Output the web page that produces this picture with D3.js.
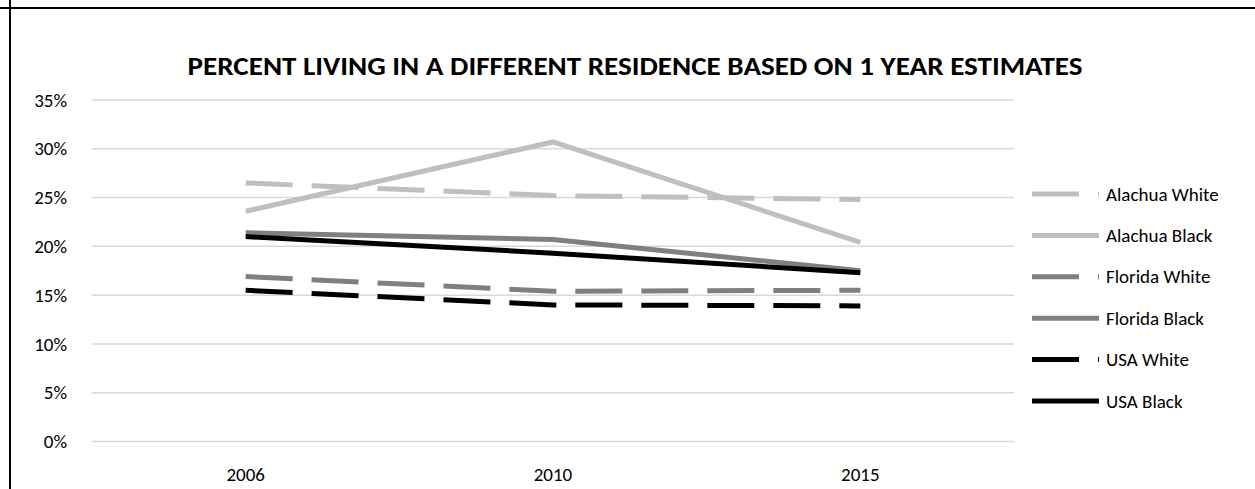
<!DOCTYPE html>
<html>
<head>
<meta charset="utf-8">
<script src="https://cdn.jsdelivr.net/npm/d3@7"></script>
<style>
  body { margin: 0; background: #fff; }
  text { font-family: Carlito, Calibri, Lato, sans-serif; }
</style>
</head>
<body>
<div id="chart"></div>
<script>
const years = ["2006", "2010", "2015"];
const yTicks = [0, 5, 10, 15, 20, 25, 30, 35];

// values in percent
const alachuaWhite = [26.5, 25.2, 24.8];
const alachuaBlack = [23.6, 30.7, 20.4];
const floridaWhite = [16.9, 15.4, 15.5];
const floridaBlack = [21.4, 20.7, 17.5];
const usaWhite = [15.5, 14.0, 13.9];
const usaBlack = [21.0, 19.3, 17.3];

const seriesNames = ["Alachua White", "Alachua Black", "Florida White", "Florida Black", "USA White", "USA Black"];
const seriesValues = [alachuaWhite, alachuaBlack, floridaWhite, floridaBlack, usaWhite, usaBlack];
const seriesColors = ["#bfbfbf", "#bfbfbf", "#7f7f7f", "#7f7f7f", "#000000", "#000000"];
const seriesDashed = [true, false, true, false, true, false];

const width = 1255, height = 489;
const margin = {left: 92, right: 241, top: 100, bottom: 47.5};

const svg = d3.select("#chart").append("svg")
  .attr("width", width)
  .attr("height", height);

// frame lines (top and left edge of the box)
svg.append("line")
  .attr("x1", 0).attr("x2", width).attr("y1", 8).attr("y2", 8)
  .attr("stroke", "#000").attr("stroke-width", 2);
svg.append("line")
  .attr("x1", 10).attr("x2", 10).attr("y1", 0).attr("y2", height)
  .attr("stroke", "#000").attr("stroke-width", 2);

const x = d3.scaleBand()
  .domain(years)
  .range([margin.left, width - margin.right]);

const y = d3.scaleLinear()
  .domain([0, 35])
  .range([height - margin.bottom, margin.top]);

// gridlines
svg.append("g")
  .selectAll("line")
  .data(yTicks)
  .join("line")
    .attr("x1", margin.left)
    .attr("x2", width - margin.right)
    .attr("y1", d => y(d))
    .attr("y2", d => y(d))
    .attr("stroke", "#d9d9d9")
    .attr("stroke-width", 1.5);

// y axis labels
svg.append("g")
  .selectAll("text")
  .data(yTicks)
  .join("text")
    .attr("x", 67)
    .attr("y", d => y(d))
    .attr("dy", "0.35em")
    .attr("text-anchor", "end")
    .attr("font-size", 19)
    .attr("fill", "#000")
    .text(d => d + "%");

// x axis labels
svg.append("g")
  .selectAll("text")
  .data(years)
  .join("text")
    .attr("x", d => x(d) + x.bandwidth() / 2)
    .attr("y", 481)
    .attr("text-anchor", "middle")
    .attr("font-size", 19)
    .attr("fill", "#000")
    .text(d => d);

// title
svg.append("text")
  .attr("x", 635)
  .attr("y", 75)
  .attr("text-anchor", "middle")
  .attr("font-size", 27)
  .attr("font-weight", "bold")
  .attr("textLength", 895)
  .attr("lengthAdjust", "spacingAndGlyphs")
  .text("PERCENT LIVING IN A DIFFERENT RESIDENCE BASED ON 1 YEAR ESTIMATES");

const line = d3.line()
  .x((d, i) => x(years[i]) + x.bandwidth() / 2)
  .y(d => y(d));

svg.append("g")
  .selectAll("path")
  .data(seriesValues)
  .join("path")
    .attr("d", d => line(d))
    .attr("fill", "none")
    .attr("stroke", (d, i) => seriesColors[i])
    .attr("stroke-width", 5)
    .attr("stroke-dasharray", (d, i) => seriesDashed[i] ? "47,19" : null);

// legend
const legend = svg.append("g")
  .selectAll("g")
  .data(seriesNames)
  .join("g")
    .attr("transform", (d, i) => `translate(1032,${194 + i * 41.4})`);

legend.append("line")
  .attr("x1", 0)
  .attr("x2", 67)
  .attr("stroke", (d, i) => seriesColors[i])
  .attr("stroke-width", 5)
  .attr("stroke-dasharray", (d, i) => seriesDashed[i] ? "47,19" : null);

legend.append("text")
  .attr("x", 74)
  .attr("dy", "0.35em")
  .attr("font-size", 19)
  .attr("fill", "#000")
  .text(d => d);
</script>
</body>
</html>
